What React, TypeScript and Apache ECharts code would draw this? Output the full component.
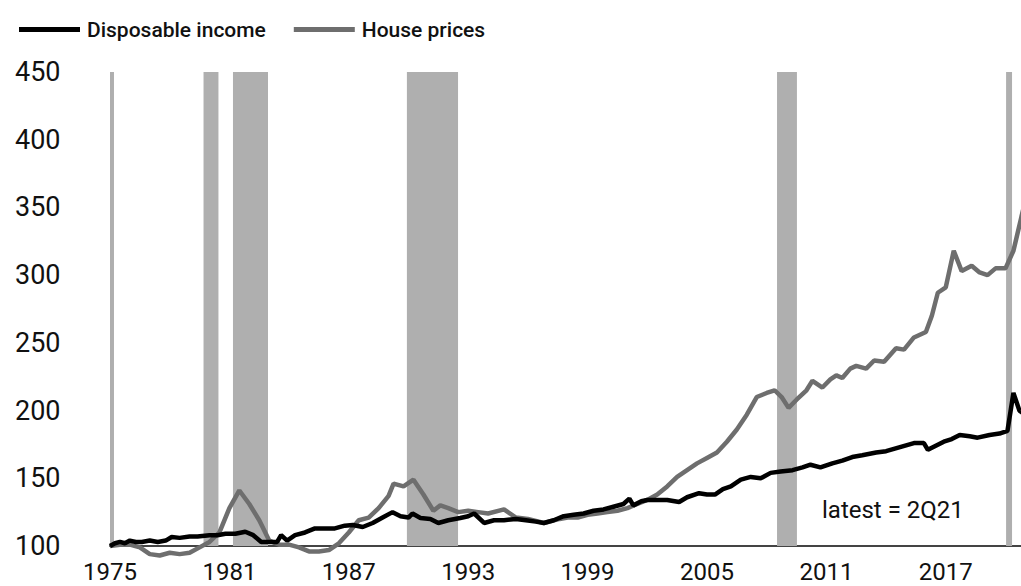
import React, { useEffect, useRef } from "react";
import * as echarts from "echarts";

const houseYears = [
  1975.0, 1975.5, 1976.0, 1976.5, 1977.0, 1977.5, 1978.0, 1978.5, 1979.0, 1979.5,
  1980.0, 1980.5, 1981.0, 1981.5, 1982.0, 1982.5, 1983.0, 1983.5, 1984.0, 1984.5,
  1985.0, 1985.5, 1986.0, 1986.5, 1987.0, 1987.5, 1988.0, 1988.5, 1989.0, 1989.25,
  1989.75, 1990.25, 1990.75, 1991.25, 1991.6, 1992.0, 1992.5, 1993.0, 1993.5, 1994.0,
  1994.8, 1995.4, 1996.0, 1996.8, 1997.6, 1998.0, 1998.5, 1999.0, 1999.5, 2000.0,
  2000.5, 2001.0, 2001.5, 2002.0, 2002.5, 2003.0, 2003.5, 2004.0, 2004.5, 2005.0,
  2005.5, 2006.0, 2006.5, 2007.0, 2007.5, 2008.0, 2008.4, 2008.75, 2009.1, 2009.5,
  2010.0, 2010.3, 2010.8, 2011.2, 2011.5, 2011.8, 2012.2, 2012.5, 2013.0, 2013.4,
  2013.9, 2014.5, 2014.9, 2015.4, 2016.0, 2016.3, 2016.6, 2017.0, 2017.4, 2017.8,
  2018.3, 2018.7, 2019.1, 2019.5, 2020.0, 2020.4, 2020.8, 2021.0, 2021.25,
];
const houseValues = [
  100, 101, 101, 99, 94, 93, 95, 94, 95, 99,
  103, 110, 128, 141, 131, 119, 104, 101, 101, 99,
  96, 96, 97, 102, 110, 119, 121, 128, 137, 146,
  144, 149, 138, 126, 130, 128, 125, 126, 125, 124,
  127, 121, 120, 117, 120, 121, 121, 123, 124, 125,
  126, 128, 131, 134, 138, 144, 151, 156, 161, 165,
  169, 177, 186, 197, 210, 213, 215, 210, 202, 208,
  215, 222, 217, 223, 226, 224, 231, 233, 231, 237,
  236, 246, 245, 254, 258, 270, 287, 291, 318, 303,
  307, 302, 300, 305, 305, 318, 343, 355, 365,
];

const incomeYears = [
  1975.0, 1975.25, 1975.5, 1975.75, 1976.0, 1976.3, 1976.6, 1977.0, 1977.4, 1977.8,
  1978.1, 1978.5, 1979.0, 1979.4, 1980.0, 1980.4, 1980.8, 1981.3, 1981.8, 1982.2,
  1982.6, 1983.0, 1983.4, 1983.6, 1983.9, 1984.3, 1984.8, 1985.3, 1985.8, 1986.3,
  1986.8, 1987.2, 1987.7, 1988.2, 1988.7, 1989.2, 1989.6, 1990.0, 1990.2, 1990.6,
  1991.1, 1991.5, 1992.0, 1992.6, 1993.0, 1993.3, 1993.8, 1994.3, 1994.8, 1995.4,
  1995.9, 1996.4, 1996.8, 1997.3, 1997.8, 1998.3, 1998.8, 1999.3, 1999.8, 2000.3,
  2000.8, 2001.1, 2001.3, 2001.7, 2002.0, 2002.5, 2003.0, 2003.6, 2004.0, 2004.6,
  2005.0, 2005.4, 2005.8, 2006.2, 2006.7, 2007.2, 2007.7, 2008.2, 2008.7, 2009.3,
  2009.8, 2010.2, 2010.7, 2011.3, 2011.8, 2012.3, 2012.8, 2013.5, 2014.0, 2014.7,
  2015.4, 2015.9, 2016.1, 2016.5, 2016.9, 2017.3, 2017.7, 2018.2, 2018.6, 2019.2,
  2019.7, 2020.1, 2020.4, 2020.7, 2021.0, 2021.25,
];
const incomeValues = [
  100, 102, 103, 102, 104, 103, 103, 104, 103, 104,
  106.6, 106, 107, 107, 108, 108, 109, 109, 110.5, 108,
  103, 103, 103, 108, 104, 108, 110, 113, 113, 113,
  115, 115.5, 114, 117, 121, 125, 122, 121, 124, 120.7,
  120, 117, 119, 120.7, 122, 124, 117, 119, 119, 120,
  119, 118, 117, 119, 122, 123, 124, 126, 127, 129,
  131, 135, 130, 133, 134, 134, 134, 132.5, 136, 139,
  138, 138, 142, 144, 149, 151, 150, 154, 155, 156,
  158, 160, 158, 161, 163, 165.7, 167, 169, 170, 173,
  176, 176, 171, 174, 177, 179, 182, 181, 180, 182,
  183, 185, 213, 200, 197, 194,
];

const recessions: [number, number][] = [
  [1975.0, 1975.2],
  [1979.7, 1980.45],
  [1981.18, 1982.94],
  [1989.92, 1992.49],
  [2008.52, 2009.52],
  [2020.03, 2020.33],
];

const yTicks = [100, 150, 200, 250, 300, 350, 400, 450];
const xTickStart = 1975;
const xTickStep = 6;
const xMax = 2020.78;
const seriesNames = ["Disposable income", "House prices"];
const note = "latest = 2Q21";

const FONT = "Roboto, 'Noto Sans', sans-serif";

export default function App() {
  const ref = useRef<HTMLDivElement>(null);
  useEffect(() => {
    if (!ref.current) return;
    const chart = echarts.init(ref.current, undefined, { renderer: "svg" });
    const house = houseYears
      .map((y, i) => [y, houseValues[i]])
      .filter((p) => p[0] <= xMax + 0.3);
    const income = incomeYears
      .map((y, i) => [y, incomeValues[i]])
      .filter((p) => p[0] <= xMax + 0.3);
    chart.setOption({
      animation: false,
      backgroundColor: "#ffffff",
      legend: {
        left: 14,
        top: 14,
        itemWidth: 61,
        itemHeight: 5,
        itemGap: 28,
        icon: "rect",
        data: [
          { name: seriesNames[0], itemStyle: { color: "#000000" } },
          { name: seriesNames[1], itemStyle: { color: "#6e6e6e" } },
        ],
        textStyle: {
          fontFamily: FONT,
          fontSize: 21,
          fontWeight: 500,
          color: "#111111",
          padding: [0, 0, 0, 2],
        },
      },
      grid: { left: 110, right: 0, top: 72, bottom: 40, containLabel: false },
      xAxis: {
        type: "value",
        min: xTickStart,
        max: xMax,
        interval: xTickStep,
        axisLine: { show: true, lineStyle: { color: "#444444", width: 2 } },
        axisTick: { show: false },
        splitLine: { show: false },
        axisLabel: {
          showMaxLabel: false,
          fontFamily: FONT,
          fontSize: 24,
          color: "#111111",
          margin: 14,
          formatter: (v: number) => String(Math.round(v)),
        },
      },
      yAxis: {
        type: "value",
        min: yTicks[0],
        max: yTicks[yTicks.length - 1],
        interval: 50,
        axisLine: { show: false },
        axisTick: { show: false },
        splitLine: { show: false },
        axisLabel: {
          fontFamily: FONT,
          fontSize: 27,
          color: "#111111",
          align: "left",
          margin: 95,
        },
      },
      series: [
        {
          name: seriesNames[1],
          type: "line",
          data: house,
          showSymbol: false,
          clip: false,
          lineStyle: { color: "#6e6e6e", width: 4.5 },
          itemStyle: { color: "#6e6e6e" },
          z: 2,
          markArea: {
            silent: true,
            itemStyle: { color: "#afafaf" },
            data: recessions.map(([a, b]) => [{ xAxis: a }, { xAxis: b }]),
          },
        },
        {
          name: seriesNames[0],
          type: "line",
          data: income,
          showSymbol: false,
          clip: false,
          lineStyle: { color: "#000000", width: 4.5 },
          itemStyle: { color: "#000000" },
          z: 3,
        },
      ],
      graphic: [
        {
          type: "text",
          left: 822,
          top: 498,
          style: {
            text: note,
            fontFamily: FONT,
            fontSize: 24,
            fill: "#111111",
          },
        },
      ],
    });
    return () => chart.dispose();
  }, []);
  return (
    <div
      ref={ref}
      style={{ position: "absolute", left: 0, top: 0, width: 1021, height: 586 }}
    />
  );
}
